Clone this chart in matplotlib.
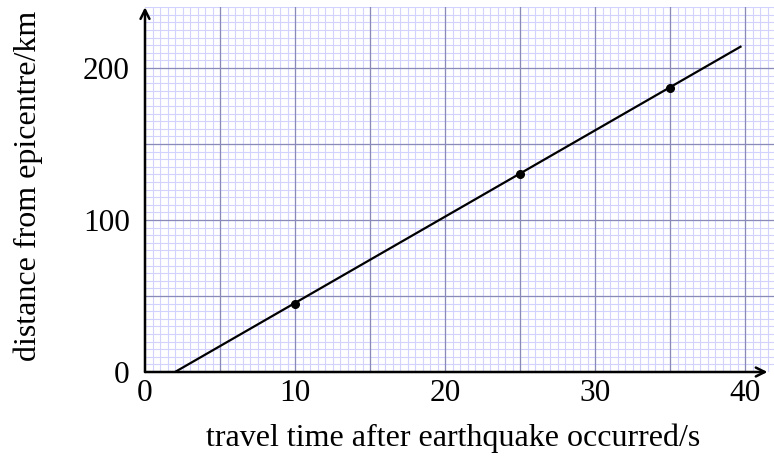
import numpy as np
import matplotlib
matplotlib.use("Agg")
import matplotlib.pyplot as plt

# measured points (travel time / s, distance / km)
times = [10, 25, 35]
distances = [45, 130, 187]

# best-fit line end points
line_t = [2.0, 39.7]
line_d = [0.0, 214.0]

x_ticks = [0, 10, 20, 30, 40]
y_ticks = [0, 100, 200]

plt.rcParams['font.family'] = ['Liberation Serif', 'DejaVu Serif']

fig = plt.figure(figsize=(7.74, 4.62), dpi=100)
ax = fig.add_axes([145 / 774, 1 - 372 / 462, 630 / 774, 364.8 / 462])

xmax, ymax = 42, 240
ax.set_xlim(0, xmax)
ax.set_ylim(0, ymax)

# graph paper grid
minor_col = '#d2d2ff'
major_col = '#8a8ab8'
for xv in np.arange(0.5, xmax + 0.01, 0.5):
    ax.axvline(xv, color=minor_col, lw=0.8, zorder=0)
for yv in np.arange(5, ymax + 0.01, 5):
    ax.axhline(yv, color=minor_col, lw=0.8, zorder=0)
for xv in np.arange(5, xmax + 0.01, 5):
    ax.axvline(xv, color=major_col, lw=0.9, zorder=1)
for yv in np.arange(50, ymax + 0.01, 50):
    ax.axhline(yv, color=major_col, lw=0.9, zorder=1)

for s in ax.spines.values():
    s.set_visible(False)

# axes with arrow heads
arrow = dict(arrowstyle='->', color='black', lw=1.8,
             mutation_scale=16, shrinkA=0, shrinkB=0)
ax.annotate('', xy=(41.5, 0), xytext=(0, 0), arrowprops=arrow,
            annotation_clip=False, zorder=5)
ax.annotate('', xy=(0, 240), xytext=(0, 0), arrowprops=arrow,
            annotation_clip=False, zorder=5)

ax.plot(line_t, line_d, color='black', lw=1.6, zorder=3)
ax.plot(times, distances, 'o', color='black', ms=5.5, zorder=4)

ax.set_xticks(x_ticks)
ax.set_yticks(y_ticks)
ax.tick_params(length=0, labelsize=22.5)
ax.tick_params(axis='x', pad=5)
ax.tick_params(axis='y', pad=11)

fig.text(453 / 774, 1 - 438 / 462, 'travel time after earthquake occurred/s',
         fontsize=23, ha='center', va='center')
fig.text(28 / 774, 1 - 186 / 462, 'distance from epicentre/km',
         fontsize=23, ha='center', va='center', rotation=90)

fig.savefig('out.png', dpi=100)
